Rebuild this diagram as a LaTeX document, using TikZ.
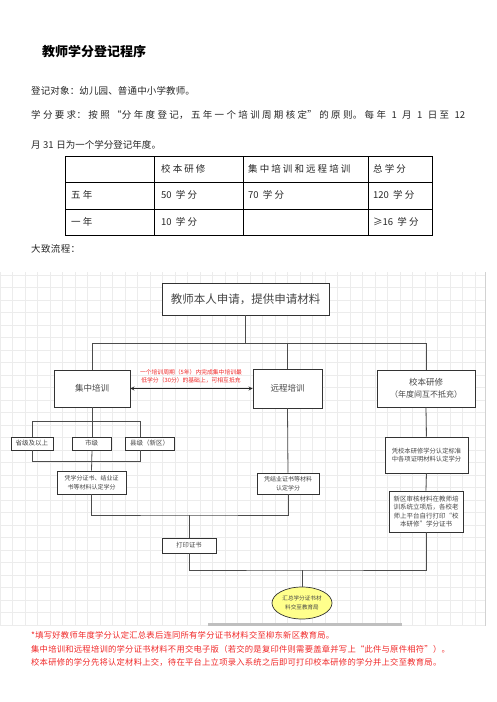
\documentclass[tikz,border=0pt]{standalone}
\usepackage{fontspec}
\setmainfont{Noto Sans CJK SC}
\usetikzlibrary{shapes.geometric,arrows}
\XeTeXlinebreaklocale "zh"
\XeTeXlinebreakskip = 0pt plus 1pt
\definecolor{notered}{RGB}{240,40,40}
\definecolor{boxtext}{RGB}{70,70,70}
\definecolor{ovalfill}{RGB}{255,255,140}
\newcommand\bodyfont{\fontsize{9.5pt}{30pt}\selectfont\addfontfeature{LetterSpace=4}}
\newcommand\tablefont{\fontsize{9.5pt}{12pt}\selectfont\addfontfeature{LetterSpace=22}}
\newcommand\notefont{\fontsize{8.3pt}{10pt}\selectfont\addfontfeature{LetterSpace=3}}
\newcommand\digits[1]{{\addfontfeature{LetterSpace=0}#1}}

\begin{document}
\begin{tikzpicture}[x=1pt, y=-1pt, >=stealth,
    box/.style={draw=black!80, line width=0.7pt, fill=white, text=boxtext,
      inner sep=0pt, align=center},
    lvbox/.style={box, minimum height=13pt, font=\fontsize{6.5}{8}\selectfont},
    smallbox/.style={box, font=\fontsize{6}{9}\selectfont},
    link/.style={draw=black!70, line width=0.8pt},
    cell/.style={anchor=west, inner sep=0pt, text=black!85, font=\tablefont}]

  \useasboundingbox (0,0) rectangle (496,702);

  % heading and rules
  \node[anchor=west, inner sep=0pt, font=\fontsize{13}{15}\selectfont\bfseries] (title) at (42,52) {教师学分登记程序};
  \node[anchor=west, inner sep=0pt, text=black!85, font=\fontsize{9.5pt}{30pt}\selectfont\addfontfeature{LetterSpace=1.5}] (target) at (31,91) {登记对象：幼儿园、普通中小学教师。};
  \node[anchor=north west, inner sep=0pt, text width=434pt, align=justify, text=black!85, font=\bodyfont] (rule) at (31,110)
    {学分要求：按照“分年度登记，五年一个培训周期核定”的原则。每年 1 月 1 日至 \digits{12}\linebreak 月 \digits{31} 日为一个学分登记年度。};

  % credit table
  \draw[line width=0.8pt] (65,156) rectangle (432,235);
  \foreach \y in {182,209} \draw[line width=0.8pt] (65,\y) -- (432,\y);
  \foreach \x in {154,243,368} \draw[line width=0.8pt] (\x,156) -- (\x,235);
  \node[cell] (head2) at (161,169) {校本研修};
  \node[cell] (head3) at (248,169) {集中培训和远程培训};
  \node[cell] (head4) at (373,169) {总学分};
  \node[cell] (five) at (71,195) {五年};
  \node[cell] (five2) at (161,195) {\digits{50} 学分};
  \node[cell] (five3) at (248,195) {\digits{70} 学分};
  \node[cell] (five4) at (373,195) {\digits{120} 学分};
  \node[cell] (one) at (71,222) {一年};
  \node[cell] (one2) at (161,222) {\digits{10} 学分};
  \node[cell] (one4) at (373,222) {≥\digits{16} 学分};

  \node[anchor=west, inner sep=0pt, text=black!85, font=\bodyfont] (flow) at (31,249) {大致流程：};

  % canvas
  \draw[gray!15, line width=0.3pt, step=12.5pt] (0,272) grid (485,626);
  \draw[gray!35, line width=0.6pt] (485,272) -- (485,626);
  \fill[gray!50] (208,622.5) rectangle (402,625.5);

  % boxes
  \node[box, minimum width=167pt, minimum height=32pt, line width=0.9pt,
    font=\fontsize{11.5}{13}\selectfont] (apply) at (245.5,299) {教师本人申请，提供申请材料};
  \node[box, minimum width=76pt, minimum height=37pt,
    font=\fontsize{8.5}{10}\selectfont] (jizhong) at (92,388.5) {集中培训};
  \node[box, minimum width=69pt, minimum height=39pt,
    font=\fontsize{8.5}{10}\selectfont] (yuancheng) at (287.5,388.5) {远程培训};
  \node[box, minimum width=98pt, minimum height=37pt,
    font=\fontsize{8.5}{12}\selectfont] (xiaoben) at (426,388.5) {校本研修\\{\fontsize{8}{12}\selectfont（年度间互不抵充）}};
  \node[lvbox, minimum width=42pt] (shengji) at (32,443.5) {省级及以上};
  \node[lvbox, minimum width=39pt] (shiji) at (91.5,443.5) {市级};
  \node[lvbox, minimum width=49pt] (xianji) at (149.5,443.5) {县级（新区）};
  \node[smallbox, minimum width=69pt, minimum height=23pt] (pingxf) at (91.5,482.5) {凭学分证书、结业证\\书等材料认定学分};
  \node[smallbox, minimum width=62pt, minimum height=21pt] (pingjy) at (288,483.5) {凭结业证书等材料\\认定学分};
  \node[smallbox, minimum width=83pt, minimum height=36pt,
    font=\fontsize{6.3}{8}\selectfont] (pingxb) at (426.5,455) {凭校本研修学分认定标准\\中各项证明材料认定学分};
  \node[smallbox, minimum width=74pt, minimum height=41pt,
    font=\fontsize{6.5}{8.3}\selectfont] (xinqu) at (426,511.5) {新区审核材料在教师培\\训系统立项后，各校老\\师上平台自行打印“校\\本研修”学分证书};
  \node[smallbox, minimum width=54pt, minimum height=15pt,
    font=\fontsize{6.3}{8}\selectfont] (print) at (189,545.5) {打印证书};
  \node[box, ellipse, fill=ovalfill, minimum width=60pt, minimum height=32pt,
    font=\fontsize{5.6}{8.5}\selectfont] (submit) at (302,603) {汇总学分证书材\\料交至教育局};
  \node[text=notered, inner sep=0pt, align=center,
    font=\fontsize{5.8}{8}\selectfont] (note) at (191,376) {一个培训周期（5年）内完成集中培训最\\低学分（30分）的基础上，可相互抵充};

  % connectors
  \coordinate (split) at (245.5,343);
  \draw[link] (apply.south) -- (split);
  \draw[link] (split) -| (jizhong.north);
  \draw[link] (split) -| (xiaoben.north);
  \draw[link] (split -| yuancheng.north) -- (yuancheng.north);
  \draw[link, draw=black!85, <->] (jizhong.east) -- (yuancheng.west);

  \coordinate (lvL) at (32,421);
  \coordinate (lvR) at (140,421);
  \coordinate (lvL2) at (32,461);
  \coordinate (lvR2) at (140,461);
  \draw[link] (jizhong.south) -- (jizhong.south |- shiji.north);
  \draw[link] (shengji.north) -- (lvL) -- (lvR) -- (lvR |- xianji.north);
  \draw[link] (shengji.south) -- (lvL2) -- (lvR2) -- (lvR |- xianji.south);
  \draw[link] (jizhong.south |- shiji.south) -- (pingxf.north);
  \draw[link] (yuancheng.south) -- (pingjy.north);
  \draw[link] (xiaoben.south) -- (pingxb.north);
  \draw[link] (pingxb.south) -- (xinqu.north);

  \coordinate (merge) at (189,515);
  \draw[link] (pingxf.south) |- (merge) -| (pingjy.south);
  \draw[link] (merge) -- (print.north);
  \coordinate (final) at (302,570);
  \draw[link] (print.south) |- (final) -| (xinqu.south);
  \draw[link] (final) -- (submit.north);

  % notes below
  \node[anchor=west, inner sep=0pt, text=notered, font=\notefont] (foot1) at (31,635) {*填写好教师年度学分认定汇总表后连同所有学分证书材料交至柳东新区教育局。};
  \node[anchor=west, inner sep=0pt, text=notered, font=\notefont] (foot2) at (31,649) {集中培训和远程培训的学分证书材料不用交电子版（若交的是复印件则需要盖章并写上“此件与原件相符”）。};
  \node[anchor=west, inner sep=0pt, text=notered, font=\notefont] (foot3) at (31,662) {校本研修的学分先将认定材料上交，待在平台上立项录入系统之后即可打印校本研修的学分并上交至教育局。};
\end{tikzpicture}
\end{document}
